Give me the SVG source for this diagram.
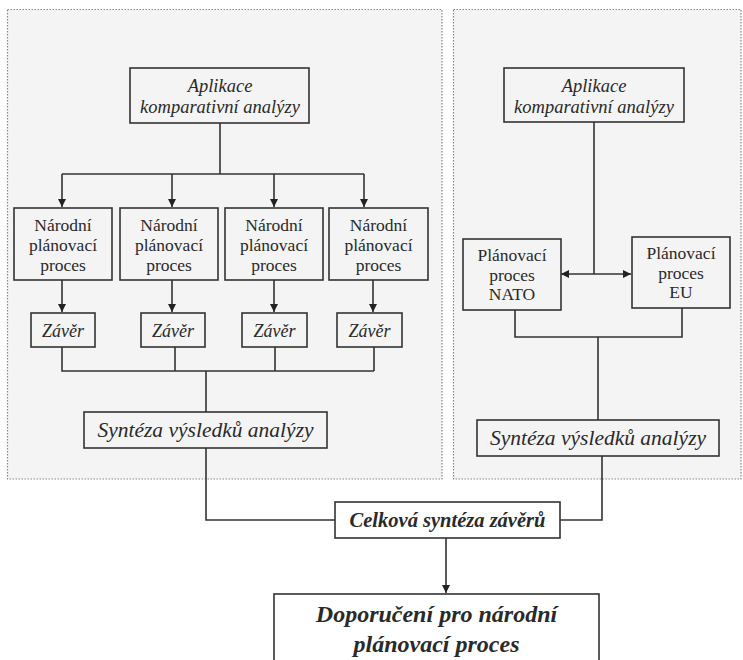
<svg xmlns="http://www.w3.org/2000/svg" width="743" height="660" viewBox="0 0 743 660">
<style>
.panel{fill:#f4f4f4;stroke:#888;stroke-width:1.2;stroke-dasharray:1.5 1.5}
.box{fill:#f4f4f4;stroke:#333;stroke-width:1.6}
.wbox{fill:#fff;stroke:#333;stroke-width:1.6}
.ln{fill:none;stroke:#333;stroke-width:1.6}
.t{font-family:"Liberation Serif","Times New Roman",serif;fill:#2a2a2a;text-anchor:middle}
.i{font-style:italic}
.n{font-size:17.5px}
.a{font-size:18.5px}
.z{font-size:18px}
.s{font-size:21.5px}
.c{font-size:20.5px;font-weight:bold}
.d{font-size:24px;font-weight:bold}
</style>
<defs>
<marker id="ah" viewBox="0 0 10 10" refX="10" refY="5" markerWidth="8" markerHeight="8" markerUnits="userSpaceOnUse" orient="auto-start-reverse">
<path d="M0,0 L10,5 L0,10 z" fill="#222"/>
</marker>
</defs>
<rect width="743" height="660" fill="#fff"/>
<g id="panels">
<rect class="panel" x="7.5" y="9.5" width="434.5" height="469.5"/>
<rect class="panel" x="453.5" y="9.5" width="287.5" height="469.5"/>
</g>
<g id="connectors">
<path class="ln" d="M220,123 V174 M62,174 H364"/>
<path class="ln" d="M62,174 V207" marker-end="url(#ah)"/>
<path class="ln" d="M172,174 V207" marker-end="url(#ah)"/>
<path class="ln" d="M274,174 V207" marker-end="url(#ah)"/>
<path class="ln" d="M364,174 V207" marker-end="url(#ah)"/>
<path class="ln" d="M62,280 V312" marker-end="url(#ah)"/>
<path class="ln" d="M172,280 V312" marker-end="url(#ah)"/>
<path class="ln" d="M274,280 V312" marker-end="url(#ah)"/>
<path class="ln" d="M373,280 V312" marker-end="url(#ah)"/>
<path class="ln" d="M62,347 V371 H374 M175,347 V371 M275,347 V371 M374,347 V371 M206,371 V412"/>
<path class="ln" d="M206,448 V520 H335"/>
<path class="ln" d="M594,122 V274"/>
<path class="ln" d="M561,274 H631" marker-start="url(#ah)" marker-end="url(#ah)"/>
<path class="ln" d="M515,310 V337 H682 V308 M598,337 V420"/>
<path class="ln" d="M602,456 V520 H560"/>
<path class="ln" d="M446,538 V593" marker-end="url(#ah)"/>
</g>
<g id="n-apl-left">
<rect class="box" x="130" y="68" width="179" height="55"/>
<text class="t i a" x="220" y="92">Aplikace</text>
<text class="t i a" x="220" y="113">komparativní analýzy</text>
</g>
<g id="n-np1">
<rect class="box" x="14" y="208" width="98" height="72"/>
<text class="t n" x="63" y="231">Národní</text>
<text class="t n" x="63" y="251">plánovací</text>
<text class="t n" x="63" y="271">proces</text>
</g>
<g id="n-np2">
<rect class="box" x="120" y="208" width="98" height="72"/>
<text class="t n" x="169" y="231">Národní</text>
<text class="t n" x="169" y="251">plánovací</text>
<text class="t n" x="169" y="271">proces</text>
</g>
<g id="n-np3">
<rect class="box" x="225" y="208" width="98" height="72"/>
<text class="t n" x="274" y="231">Národní</text>
<text class="t n" x="274" y="251">plánovací</text>
<text class="t n" x="274" y="271">proces</text>
</g>
<g id="n-np4">
<rect class="box" x="329" y="208" width="99" height="72"/>
<text class="t n" x="378.5" y="231">Národní</text>
<text class="t n" x="378.5" y="251">plánovací</text>
<text class="t n" x="378.5" y="271">proces</text>
</g>
<g id="n-z1">
<rect class="box" x="31" y="313" width="64" height="34"/>
<text class="t i z" x="63" y="337">Závěr</text>
</g>
<g id="n-z2">
<rect class="box" x="141" y="313" width="64" height="34"/>
<text class="t i z" x="173" y="337">Závěr</text>
</g>
<g id="n-z3">
<rect class="box" x="242" y="313" width="65" height="34"/>
<text class="t i z" x="274.5" y="337">Závěr</text>
</g>
<g id="n-z4">
<rect class="box" x="337" y="313" width="65" height="34"/>
<text class="t i z" x="369.5" y="337">Závěr</text>
</g>
<g id="n-syn-left">
<rect class="box" x="84" y="412" width="243" height="36"/>
<text class="t i s" x="205.5" y="437">Syntéza výsledků analýzy</text>
</g>
<g id="n-apl-right">
<rect class="box" x="504" y="68" width="180" height="54"/>
<text class="t i a" x="594" y="92">Aplikace</text>
<text class="t i a" x="594" y="113">komparativní analýzy</text>
</g>
<g id="n-nato">
<rect class="box" x="463" y="239" width="98" height="71"/>
<text class="t n" x="512" y="261">Plánovací</text>
<text class="t n" x="512" y="281">proces</text>
<text class="t n" x="512" y="300">NATO</text>
</g>
<g id="n-eu">
<rect class="box" x="632" y="237" width="98" height="71"/>
<text class="t n" x="681" y="259">Plánovací</text>
<text class="t n" x="681" y="279">proces</text>
<text class="t n" x="681" y="298">EU</text>
</g>
<g id="n-syn-right">
<rect class="box" x="477" y="420" width="242" height="36"/>
<text class="t i s" x="598" y="445">Syntéza výsledků analýzy</text>
</g>
<g id="n-celkova">
<rect class="wbox" x="335" y="502" width="225" height="36"/>
<text class="t i c" x="447.5" y="527">Celková syntéza závěrů</text>
</g>
<g id="n-doporuceni">
<rect class="wbox" x="274" y="594" width="325" height="80"/>
<text class="t i d" x="436.5" y="622">Doporučení pro národní</text>
<text class="t i d" x="436.5" y="652">plánovací proces</text>
</g>
</svg>
